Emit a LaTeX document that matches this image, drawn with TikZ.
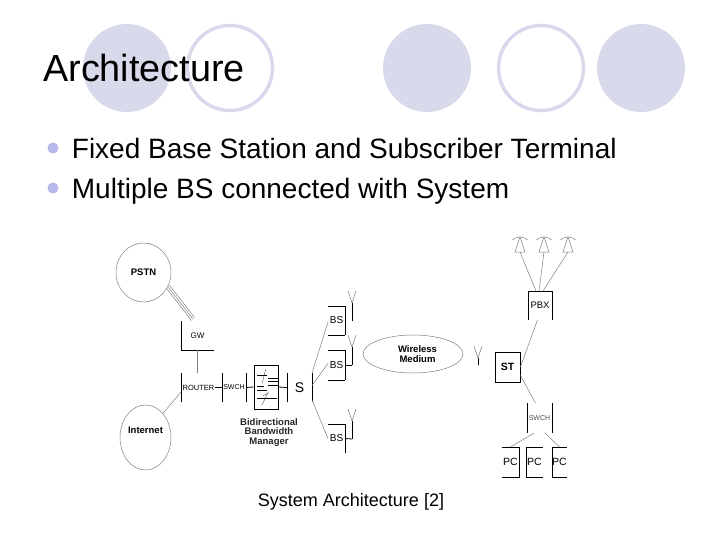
\documentclass[tikz,border=0pt]{standalone}
\usepackage{fontspec}
\setmainfont{Liberation Sans}
\usetikzlibrary{positioning,shapes.geometric}
\newcommand{\fs}[1]{\fontsize{#1}{#1}\selectfont}
\definecolor{lilac}{HTML}{D9D9EC}
\begin{document}
\begin{tikzpicture}[
  x=1pt, y=-1pt,
  disc/.style={circle, fill=lilac, minimum size=88pt, inner sep=0pt},
  ring/.style={circle, draw=lilac, line width=3.5pt, minimum size=85pt, inner sep=0pt},
  dot/.style={circle, fill=lilac!85!blue, minimum size=11pt, inner sep=0pt},
  line/.style={inner sep=0pt, font=\fs{28}, text height=20pt, text depth=6pt, yshift=-3.5pt},
  cloud/.style={ellipse, draw=black!50, line width=0.5pt, inner sep=0pt, align=center, font=\fs{9.5}\bfseries},
  part/.style={inner sep=0pt, outer sep=0pt, align=center, font=\fs{9.5}},
  side/.style={black, line width=0.8pt},
  fl/.style={black!50, line width=0.5pt},
  tag/.style={part, font=\fs{9.5}\bfseries}
]
\useasboundingbox (0,0) rectangle (720,540);
\foreach \n/\x in {c1/127, c3/427, c5/641} \node[disc] (\n) at (\x,68) {};
\foreach \n/\x in {c2/230, c4/541} \node[ring] (\n) at (\x,68) {};
\node[anchor=west, inner sep=0pt, font=\fs{37.8}] (title) at (43,68) {Architecture};
\node[dot] (d1) at (53,148) {};
\node[dot] (d2) at (53,188) {};
\node[right=13pt of d1, line] (t1) {Fixed Base Station and Subscriber Terminal};
\node[right=13pt of d2, line] (t2) {Multiple BS connected with System};
\node[inner sep=0pt, font=\fs{18}] (cap) at (351,501.5) {System Architecture [2]};

\node[cloud, minimum width=55pt, minimum height=59pt] (pstn) at (143.5,272.5) {PSTN};
\node[cloud, minimum width=51pt, minimum height=65pt] (inet) at (145.5,437.5) {\raisebox{15pt}{Internet}};
\node[cloud, minimum width=100pt, minimum height=38pt] (wm) at (413,354) {\hspace*{9pt}Wireless\\\hspace*{9pt}Medium};

\node[part, minimum width=33pt, minimum height=29pt, font=\fs{8}] (gw) at (197.5,335.5) {GW};
\node[part, minimum width=41pt, minimum height=29pt, font=\fs{7.5}] (router) at (201.5,387.5) {\hspace*{-6pt}ROUTER};
\node[part, right=0pt of router, minimum width=24pt, minimum height=29pt, font=\fs{7}] (swch) {SWCH};
\node[draw, line width=0.9pt, inner sep=0pt, minimum width=24pt, minimum height=44pt] (bbm) at (266,387) {};
\node[part, minimum width=25pt, minimum height=29pt, font=\fs{14}] (sw) at (299.5,387.5) {S};
\node[tag, below=9pt of bbm, xshift=3pt, text=black!85] (bbmt) {Bidirectional\\Bandwidth\\Manager};

\foreach \n/\y/\h in {bs1/320.5/29, bs2/365/30, bs3/438.5/29}
  \node[part, minimum width=17pt, minimum height=\h pt, font=\fs{10}] (\n) at (336.5,\y) {BS};
\node[part, minimum width=24pt, minimum height=29pt] (pbx) at (540,305.5) {PBX};
\node[draw, line width=0.8pt, inner sep=0pt, minimum width=25pt, minimum height=30pt, font=\fs{10.5}\bfseries] (st) at (507.5,367) {ST};
\node[part, minimum width=25pt, minimum height=30pt, font=\fs{7}, text=black!70] (swch2) at (539.5,418) {SWCH};
\node[part, minimum width=17pt, minimum height=30pt, font=\fs{10.5}] (pc1) at (510.5,462) {PC};
\node[part, right=7pt of pc1, minimum width=17pt, minimum height=30pt, font=\fs{10.5}] (pc2) {PC};
\node[part, right=9pt of pc2, minimum width=15pt, minimum height=30pt, font=\fs{10.5}] (pc3) {PC};

\foreach \n in {router,swch,sw,swch2}
  \draw[side] (\n.north west) -- (\n.south west) (\n.north east) -- (\n.south east);
\draw[side] (gw.north west) -- (gw.south west) -- (gw.south east);
\foreach \n in {bs1,bs2,bs3}
  \draw[side] (\n.north west) -- (\n.north east) -- (\n.south east);
\draw[side] (bs1.south east) -- (bs1.south west) (bs2.south east) -- (bs2.south west);
\draw[side] (pbx.south west) -- (pbx.north west) -- (pbx.north east) -- (pbx.south east);
\draw[side] (pc1.north west) -- (pc1.north east) -- (pc1.south east) -- (pc1.south west);
\foreach \n in {pc2,pc3}
  \draw[side] (\n.north east) -- (\n.north west) -- (\n.south west) -- (\n.south east);

\foreach \s in {-1.5,0,1.5}
  \draw[fl] ([shift={(\s,-\s)}]pstn.-30) -- ([shift={(\s-4.5,-\s-2)}]gw.north);
\draw[fl] (gw.south) -- (router.north -| gw.south);
\draw[fl] (inet.54) -- ([yshift=10pt]router.south west);
\draw[side] (router.east) -- ++(-7,0);
\draw[side] (swch.east) -- (bbm.west);
\draw[side] (bbm.east) -- (sw.west);
\draw[fl] (sw.north east) -- (bs1.190);
\draw[fl] ([yshift=2pt]sw.east) -- (bs2.170);
\draw[fl] ([yshift=2pt]sw.south east) -- (bs3.west);
\draw[fl] (pbx.260) -- (st.east);
\draw[fl] ([yshift=7pt]st.south east) -- ([xshift=-4pt]swch2.north);
\draw[fl] (swch2.250) -- (pc1.north);
\draw[fl] (swch2.290) -- (pc3.north);

\coordinate (m1) at (352,321);
\coordinate (m2) at (352,365);
\coordinate (m3) at (352,439);
\coordinate (m4) at (478,365);
\foreach \m/\h in {m1/18, m2/18, m3/18, m4/7} {
  \draw[side] (\m) -- ++(0,-\h) coordinate (top);
  \draw[fl] (top) -- ++(-4,-12) (top) -- ++(4,-12);
}
\draw[side] (bs2.east) -- (m2);
\draw[side] (bs3.east) -- (m3);

\foreach \n/\x in {tw1/520, tw2/544, tw3/568} {
  \coordinate (\n) at (\x,237);
  \draw[fl] (\n) -- ++(-5,15) -- ++(10,0) -- cycle;
  \draw[fl] (\x-7.5,240) .. controls (\x-3,236) and (\x+3,236) .. (\x+7.5,240);
}
\foreach \n/\a in {tw1/-4, tw2/-1, tw3/3} \draw[fl] ([yshift=-15pt]\n) -- ([xshift=\a pt]pbx.north);

\draw[black!70, line width=0.4pt] (265.7,369) -- (262.3,383) (263,396) -- (268,393) (268.3,392) -- (262,405);
\draw[black, line width=0.7pt] (257.3,375.7) -- (266.7,375.7)
  (268.3,378.3) -- (277.7,378.3) (268.3,381.7) -- (277.7,381.7) (268.3,385) -- (277.7,385)
  (256.7,386.7) -- (264.3,386.7) (256.7,390.7) -- (266.7,390.7) (256.7,398.3) -- (276.7,398.3);
\end{tikzpicture}
\end{document}
